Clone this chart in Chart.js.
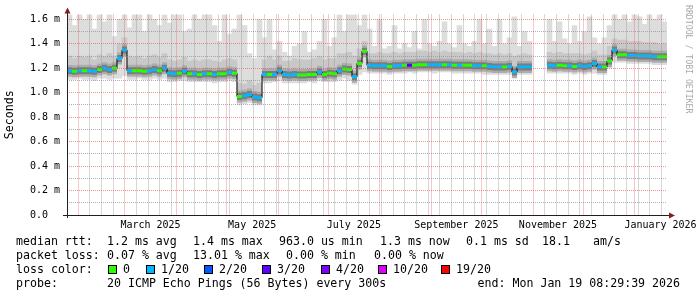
<!DOCTYPE html>
<html>
<head>
<meta charset="utf-8">
<script src="https://cdn.jsdelivr.net/npm/chart.js@4.4.1/dist/chart.umd.min.js"></script>
<style>
  html, body { margin: 0; padding: 0; background: #fff; }
  #wrap { position: relative; width: 697px; height: 297px; }
</style>
</head>
<body>
<div id="wrap"><canvas id="rtt"></canvas></div>
<script>
// 3-day buckets, ms values (null = no data)
const med = [
  1.18, 1.175, 1.18, 1.18, 1.18, 1.175, 1.19, 1.2, 1.19, 1.2,
  1.28, 1.35, 1.18, 1.18, 1.18, 1.175, 1.18, 1.19, 1.18, 1.2,
  1.16, 1.155, 1.16, 1.175, 1.155, 1.155, 1.15, 1.155, 1.155, 1.15,
  1.155, 1.155, 1.165, 1.16, 0.97, 0.975, 0.985, 0.965, 0.96, 1.15,
  1.15, 1.15, 1.18, 1.15, 1.145, 1.15, 1.145, 1.145, 1.15, 1.15,
  1.17, 1.15, 1.16, 1.155, 1.18, 1.195, 1.19, 1.13, 1.24, 1.34,
  1.225, 1.22, 1.22, 1.22, 1.215, 1.22, 1.22, 1.225, 1.225, 1.225,
  1.23, 1.23, 1.23, 1.23, 1.23, 1.23, 1.23, 1.225, 1.225, 1.225,
  1.225, 1.22, 1.22, 1.22, 1.215, 1.21, 1.21, 1.21, 1.215, 1.17,
  1.21, 1.21, 1.21, null, null, null, 1.225, 1.22, 1.225, 1.22,
  1.22, 1.215, 1.22, 1.215, 1.22, 1.24, 1.21, 1.21, 1.26, 1.35,
  1.31, 1.31, 1.305, 1.305, 1.3, 1.3, 1.3, 1.295, 1.295, 1.295
];
const lost = [
  1, 0, 1, 0, 1, 1, 0, 1, 1, 0,
  1, 1, 1, 0, 0, 0, 1, 1, 0, 1,
  1, 1, 0, 1, 0, 1, 0, 1, 0, 1,
  0, 0, 1, 0, 0, 1, 1, 1, 1, 1,
  0, 1, 1, 1, 1, 1, 0, 0, 0, 0,
  1, 0, 0, 0, 1, 0, 0, 1, 0, 0,
  1, 1, 1, 1, 0, 1, 1, 0, 3, 0,
  0, 0, 1, 1, 1, 0, 1, 0, 1, 0,
  0, 1, 1, 0, 1, 1, 1, 0, 1, 1,
  1, 1, 1, null, null, null, 1, 1, 0, 0,
  1, 0, 1, 1, 1, 1, 1, 0, 0, 1,
  0, 0, 1, 1, 1, 1, 1, 1, 0, 0
];
const top20 = [
  1.64, 1.55, 1.64, 1.6, 1.64, 1.52, 1.64, 1.58, 1.64, 1.46,
  1.6, 1.64, 1.53, 1.64, 1.64, 1.5, 1.64, 1.6, 1.55, 1.64,
  1.57, 1.64, 1.64, 1.5, 1.52, 1.64, 1.6, 1.64, 1.64, 1.55,
  1.42, 1.64, 1.48, 1.52, 1.64, 1.55, 1.32, 1.28, 1.6, 1.45,
  1.6, 1.35, 1.42, 1.33, 1.3, 1.38, 1.4, 1.5, 1.33, 1.35,
  1.42, 1.6, 1.38, 1.45, 1.64, 1.5, 1.64, 1.64, 1.55, 1.64,
  1.52, 1.38, 1.6, 1.36, 1.38, 1.55, 1.36, 1.4, 1.37, 1.5,
  1.36, 1.6, 1.4, 1.38, 1.42, 1.58, 1.4, 1.37, 1.55, 1.4,
  1.38, 1.42, 1.6, 1.4, 1.52, 1.38, 1.6, 1.4, 1.45, 1.62,
  1.38, 1.5, 1.42, null, null, null, 1.6, 1.42, 1.58, 1.44,
  1.4, 1.55, 1.42, 1.5, 1.62, 1.45, 1.4, 1.45, 1.55, 1.64,
  1.6, 1.64, 1.58, 1.64, 1.62, 1.56, 1.64, 1.6, 1.64, 1.58
];
const upper = [
  1.3, 1.28, 1.3, 1.29, 1.3, 1.27, 1.31, 1.3, 1.32, 1.3,
  1.4, 1.45, 1.3, 1.29, 1.3, 1.28, 1.3, 1.31, 1.29, 1.32,
  1.27, 1.26, 1.27, 1.29, 1.26, 1.27, 1.26, 1.27, 1.27, 1.26,
  1.25, 1.27, 1.28, 1.27, 1.08, 1.07, 1.1, 1.06, 1.08, 1.27,
  1.3, 1.27, 1.3, 1.26, 1.26, 1.28, 1.27, 1.27, 1.27, 1.28,
  1.3, 1.27, 1.28, 1.28, 1.32, 1.32, 1.33, 1.3, 1.36, 1.42,
  1.32, 1.32, 1.33, 1.32, 1.32, 1.33, 1.32, 1.33, 1.33, 1.33,
  1.34, 1.34, 1.33, 1.34, 1.33, 1.34, 1.33, 1.33, 1.33, 1.32,
  1.33, 1.32, 1.33, 1.32, 1.32, 1.31, 1.32, 1.31, 1.32, 1.3,
  1.31, 1.32, 1.31, null, null, null, 1.33, 1.32, 1.33, 1.32,
  1.32, 1.32, 1.32, 1.31, 1.32, 1.34, 1.31, 1.31, 1.38, 1.44,
  1.43, 1.43, 1.42, 1.42, 1.42, 1.41, 1.41, 1.41, 1.4, 1.4
];
const lower = [
  1.11, 1.11, 1.12, 1.11, 1.11, 1.1, 1.12, 1.12, 1.11, 1.12,
  1.12, 1.14, 1.11, 1.11, 1.12, 1.11, 1.11, 1.12, 1.11, 1.12,
  1.09, 1.09, 1.1, 1.1, 1.09, 1.09, 1.09, 1.09, 1.09, 1.08,
  1.09, 1.09, 1.1, 1.09, 0.9, 0.91, 0.92, 0.9, 0.9, 1.08,
  1.08, 1.09, 1.1, 1.08, 1.08, 1.08, 1.08, 1.08, 1.09, 1.08,
  1.1, 1.09, 1.09, 1.09, 1.1, 1.12, 1.1, 1.07, 1.15, 1.17,
  1.16, 1.16, 1.16, 1.16, 1.15, 1.16, 1.16, 1.16, 1.17, 1.16,
  1.17, 1.17, 1.17, 1.16, 1.17, 1.17, 1.17, 1.16, 1.16, 1.16,
  1.16, 1.16, 1.16, 1.15, 1.15, 1.15, 1.15, 1.15, 1.15, 1.12,
  1.15, 1.15, 1.15, null, null, null, 1.16, 1.16, 1.16, 1.16,
  1.16, 1.15, 1.16, 1.15, 1.16, 1.16, 1.15, 1.15, 1.2, 1.25,
  1.25, 1.25, 1.24, 1.24, 1.24, 1.24, 1.24, 1.23, 1.23, 1.23
];

const xTickLabels = ['March 2025', 'May 2025', 'July 2025', 'September 2025', 'November 2025', 'January 2026'];
const xLabelMonths = [2, 4, 6, 8, 10, 12]; // months counted from Jan 2025
const yTickLabels = ['0.0', '0.2 m', '0.4 m', '0.6 m', '0.8 m', '1.0 m', '1.2 m', '1.4 m', '1.6 m'];
const lossSteps = [0, 1, 2, 3, 4, 10, 19];
const lossNames = ['0', '1/20', '2/20', '3/20', '4/20', '10/20', '19/20'];
const lossColors = ['#26ff00', '#00b8ff', '#0059ff', '#5e00ff', '#7e00ff', '#dd00ff', '#ff0000'];

const DAY = 86400000;
const epoch = Date.UTC(2025, 0, 1);
const toDay = t => (t - epoch) / DAY;
const xMin = toDay(Date.UTC(2025, 0, 25, 9, 36));
const xMax = xMin + 360;
const bucketDays = 3;
const bucketX = med.map((_, i) => xMin + bucketDays * (i + 0.5));

function lossColor(n) {
  let c = lossColors[0];
  lossSteps.forEach((s, k) => { if (n >= s) c = lossColors[k]; });
  return c;
}

// x grid: weeks (minor), month starts (major), month centres carry the labels
const monthStarts = [];
for (let m = 1; m <= 12; m++) monthStarts.push(toDay(Date.UTC(2025, m, 1)));
const labelDays = xLabelMonths.map(m => (toDay(Date.UTC(2025, m, 1)) + toDay(Date.UTC(2025, m + 1, 1))) / 2);
const weekDays = [];
for (let d = monthStarts[0]; d < xMax; d += 7) weekDays.push(d);
const xTicks = [...new Set([...weekDays, ...monthStarts, ...labelDays])].sort((a, b) => a - b);
const near = (arr, v) => arr.findIndex(d => Math.abs(d - v) < 1e-6);

const MGRID = 'rgba(222,79,79,0.6)';
const GRID = 'rgba(143,143,143,0.7)';
const MONO = "'DejaVu Sans Mono', monospace";
// one bucket is 600px / 120 wide on this canvas
const BUCKET_PX = 5;

const pts = arr => arr.map((v, i) => ({ x: bucketX[i], y: v }));
const band = (a, b) => a.map((v, i) => ({ x: bucketX[i], y: [a[i], b[i]] })).filter(p => p.y[0] !== null);

// smoke right around the median: one short thick dash per bucket
const smokeDash = (label, color, width, order) => ({
  label, type: 'line', data: pts(med), showLine: false,
  pointStyle: 'line', pointRadius: BUCKET_PX / 2, pointHoverRadius: BUCKET_PX / 2,
  pointBorderWidth: width, pointBorderColor: color, order
});

const rrdDecor = {
  id: 'rrdDecor',
  afterDraw(chart) {
    const { ctx, chartArea: a } = chart;
    ctx.save();
    ctx.strokeStyle = 'rgb(31,31,31)';
    ctx.lineWidth = 1;
    ctx.beginPath();
    ctx.moveTo(a.left - 4, a.bottom + 0.5);
    ctx.lineTo(a.right + 2, a.bottom + 0.5);
    ctx.moveTo(a.left + 0.5, a.bottom + 3);
    ctx.lineTo(a.left + 0.5, a.top - 2);
    ctx.stroke();

    ctx.fillStyle = 'rgb(128,31,31)';
    ctx.beginPath();
    ctx.moveTo(a.right + 8, a.bottom + 0.5);
    ctx.lineTo(a.right + 2, a.bottom - 2.5);
    ctx.lineTo(a.right + 2, a.bottom + 3.5);
    ctx.fill();
    ctx.beginPath();
    ctx.moveTo(a.left + 0.5, a.top - 7);
    ctx.lineTo(a.left - 2.5, a.top - 1);
    ctx.lineTo(a.left + 3.5, a.top - 1);
    ctx.fill();

    // watermark
    ctx.save();
    ctx.translate(688, 5);
    ctx.rotate(Math.PI / 2);
    ctx.font = '8.2px ' + MONO;
    ctx.fillStyle = '#a8a8a8';
    ctx.textBaseline = 'middle';
    ctx.fillText('RRDTOOL / TOBI OETIKER', 0, 0);
    ctx.restore();

    // legend block
    ctx.font = '11.6px ' + MONO;
    ctx.fillStyle = '#000';
    ctx.textBaseline = 'middle';
    const rows = [
      [241.5, [[16, 'median rtt:'], [107, '1.2 ms avg'], [193, '1.4 ms max'], [279, '963.0 us min'], [380, '1.3 ms now'], [466, '0.1 ms sd'], [542, '18.1'], [593, 'am/s']]],
      [255.5, [[16, 'packet loss:'], [107, '0.07 % avg'], [193, '13.01 % max'], [286, '0.00 % min'], [374, '0.00 % now']]],
      [269.5, [[16, 'loss color:']]],
      [283.5, [[16, 'probe:'], [107, '20 ICMP Echo Pings (56 Bytes) every 300s']]]
    ];
    rows.forEach(([y, items]) => items.forEach(([x, t]) => ctx.fillText(t, x, y)));
    ctx.textAlign = 'right';
    ctx.fillText('end: Mon Jan 19 08:29:39 2026', 680, 283.5);
    ctx.textAlign = 'left';

    const boxX = [108, 146, 204, 262, 321, 378, 441];
    lossNames.forEach((name, k) => {
      ctx.fillStyle = lossColors[k];
      ctx.fillRect(boxX[k], 265, 9, 9);
      ctx.strokeStyle = '#000';
      ctx.strokeRect(boxX[k] + 0.5, 265.5, 8, 8);
      ctx.fillStyle = '#000';
      ctx.fillText(name, boxX[k] + 15, 269.5);
    });
    ctx.restore();
  }
};

Chart.defaults.color = '#000';
Chart.defaults.font.family = MONO;

new Chart(document.getElementById('rtt'), {
  type: 'bar',
  data: {
    datasets: [
      {
        label: 'median colour', type: 'line', data: pts(med), showLine: false,
        pointStyle: 'line', pointRadius: BUCKET_PX / 2, pointHoverRadius: BUCKET_PX / 2, pointBorderWidth: 3,
        pointBorderColor: c => lossColor(lost[c.dataIndex]), order: 1
      },
      {
        label: 'median', type: 'line', data: pts(med), stepped: 'middle', spanGaps: false,
        borderColor: '#000', borderWidth: 1, pointRadius: 0, order: 2
      },
      smokeDash('smoke dark', '#7c7c7c', 7, 3),
      smokeDash('smoke mid', '#acacac', 12, 4),
      {
        label: 'smoke upper', data: band(med, upper), backgroundColor: '#c8c8c8',
        grouped: false, barThickness: BUCKET_PX, order: 5
      },
      {
        label: 'smoke all', data: band(lower, top20), backgroundColor: '#dddddd',
        grouped: false, barThickness: BUCKET_PX, order: 6
      }
    ]
  },
  options: {
    responsive: true,
    maintainAspectRatio: false,
    devicePixelRatio: 1,
    animation: false,
    events: [],
    layout: { padding: { top: 14, right: 30, left: 0, bottom: 0 } },
    plugins: { legend: { display: false }, tooltip: { enabled: false } },
    scales: {
      x: {
        type: 'linear', min: xMin, max: xMax, offset: false,
        afterFit: s => { s.height = 82; },
        afterBuildTicks: s => { s.ticks = xTicks.map(v => ({ value: v })); },
        ticks: {
          autoSkip: false, maxRotation: 0, padding: 4,
          font: { size: 10, family: MONO },
          callback: v => { const k = near(labelDays, v); return k >= 0 ? xTickLabels[k] : ''; }
        },
        grid: {
          z: 1, drawTicks: false, offset: false, lineWidth: 1,
          color: c => near(labelDays, c.tick.value) >= 0 ? 'rgba(0,0,0,0)' : (near(monthStarts, c.tick.value) >= 0 ? MGRID : GRID)
        },
        border: { display: false, dash: [1, 1] }
      },
      y: {
        min: 0, max: 1.64,
        afterFit: s => { s.width = 67; },
        afterBuildTicks: s => { s.ticks = yTickLabels.flatMap((_, k) => k < 8 ? [{ value: k * 0.2 }, { value: k * 0.2 + 0.1 }] : [{ value: k * 0.2 }]); },
        ticks: {
          autoSkip: false, padding: 7,
          font: { size: 10, family: MONO },
          callback: (v, i) => i % 2 === 0 ? yTickLabels[i / 2].padEnd(5) : ''
        },
        grid: {
          z: 1, drawTicks: false, lineWidth: 1,
          color: c => c.index % 2 === 0 ? MGRID : GRID
        },
        border: { display: false, dash: [1, 1] },
        title: { display: true, text: 'Seconds', font: { size: 11.6, family: MONO }, padding: { top: 3, bottom: 0 } }
      }
    }
  },
  plugins: [rrdDecor]
});
</script>
</body>
</html>
